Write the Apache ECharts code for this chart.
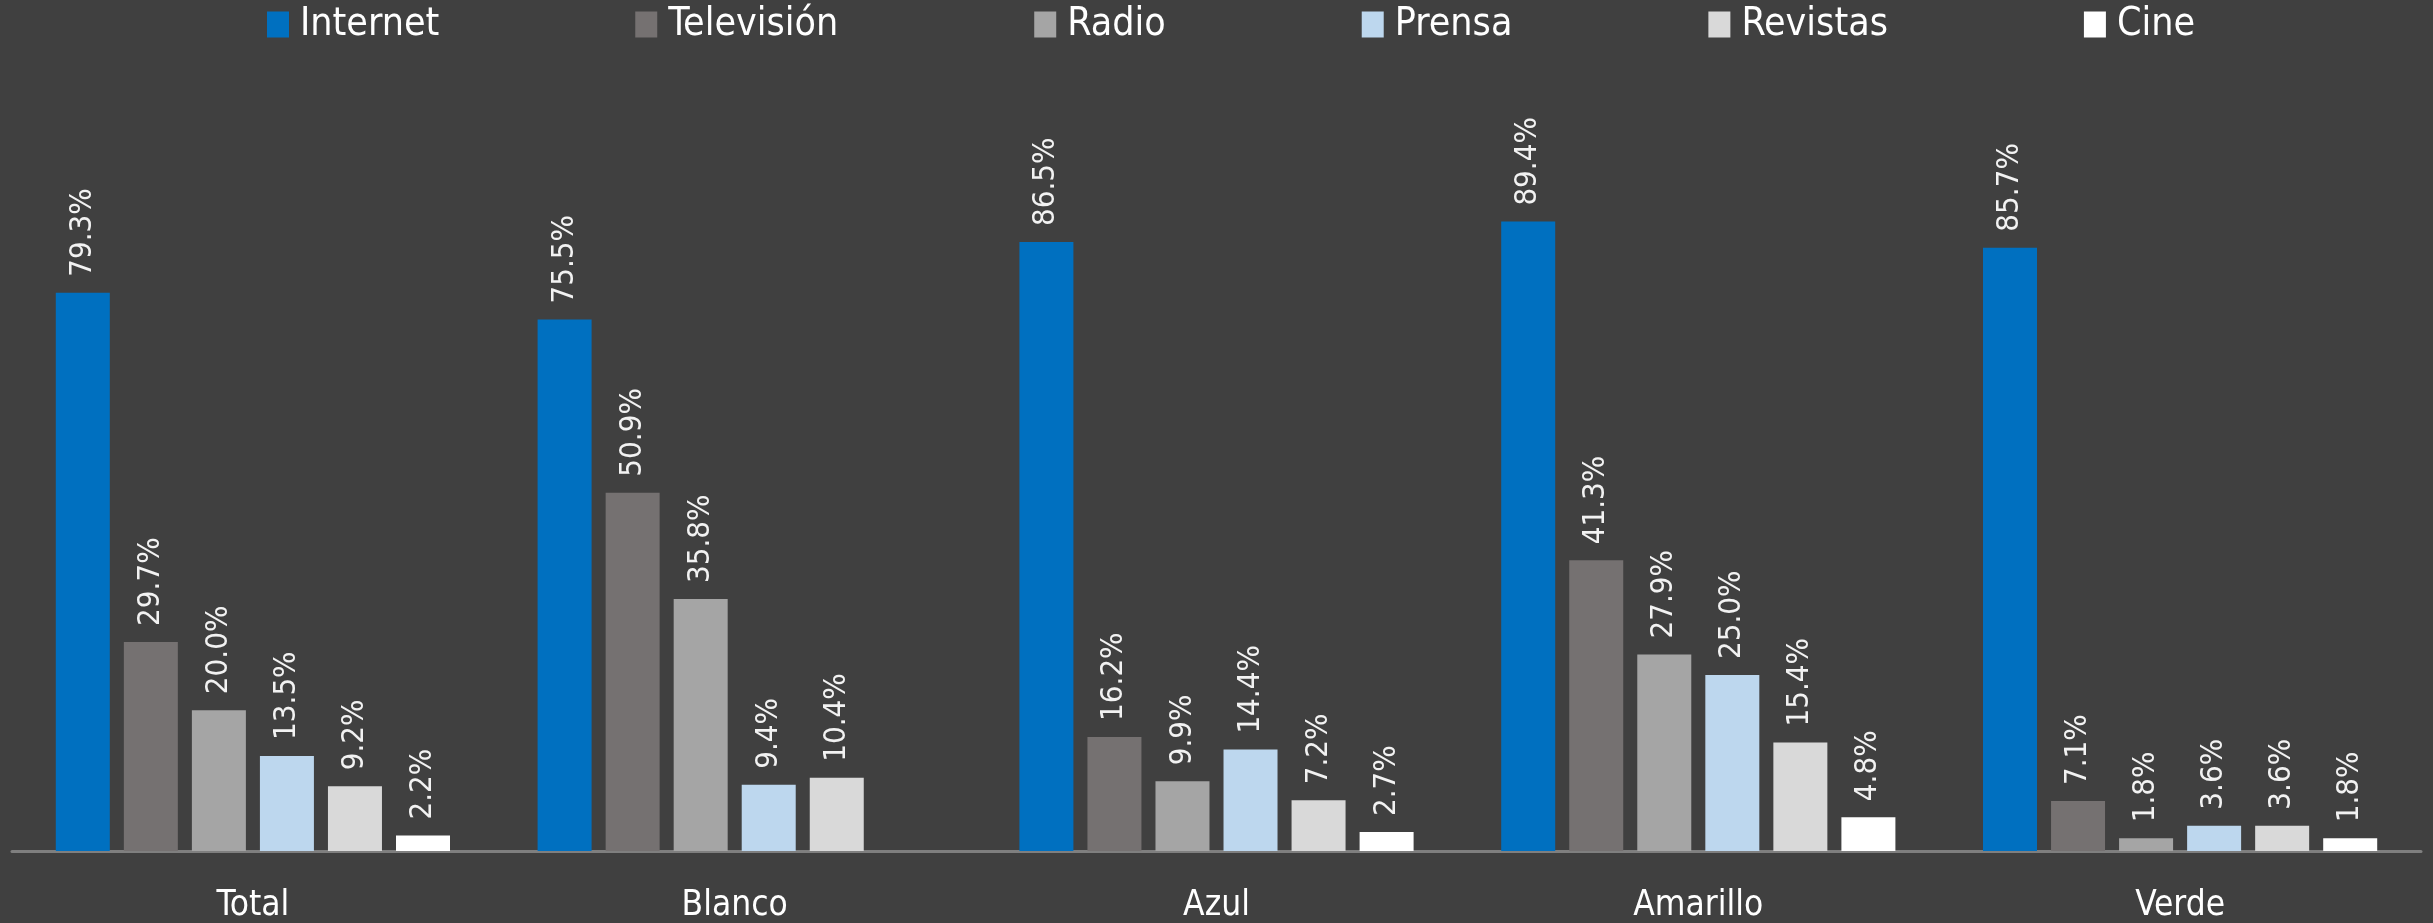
<!DOCTYPE html>
<html>
<head>
<meta charset="utf-8">
<script src="https://cdn.jsdelivr.net/npm/echarts@6/dist/echarts.min.js"></script>
<style>
  html, body { margin: 0; padding: 0; background: #404040; }
  #chart { width: 2433px; height: 923px; }
</style>
</head>
<body>
<div id="chart"></div>
<script>
// categorias y series
const categories = ['Total', 'Blanco', 'Azul', 'Amarillo', 'Verde']
const seriesNames = ['Internet', 'Televisión', 'Radio', 'Prensa', 'Revistas', 'Cine']
const seriesColors = ['#0070C0', '#757171', '#A5A5A5', '#BDD7EE', '#D9D9D9', '#FFFFFF']

const internet = [79.3, 75.5, 86.5, 89.4, 85.7]
const television = [29.7, 50.9, 16.2, 41.3, 7.1]
const radio = [20.0, 35.8, 9.9, 27.9, 1.8]
const prensa = [13.5, 9.4, 14.4, 25.0, 3.6]
const revistas = [9.2, 10.4, 7.2, 15.4, 3.6]
const cine = [2.2, '-', 2.7, 4.8, 1.8]

const allData = [internet, television, radio, prensa, revistas, cine]

const chart = echarts.init(document.getElementById('chart'))

const series = seriesNames.map((name, i) => ({
  name: name,
  type: 'bar',
  data: allData[i],
  barWidth: 54,
  barGap: '26%',
  itemStyle: { color: seriesColors[i] },
  label: {
    show: true,
    position: 'top',
    rotate: 90,
    align: 'left',
    verticalAlign: 'middle',
    distance: 16,
    color: '#f2f2f2',
    fontFamily: 'DejaVu Sans Condensed',
    fontSize: 31,
    formatter: p => p.value.toFixed(1) + '%'
  }
}))

chart.setOption({
  backgroundColor: '#404040',
  animation: false,
  legend: {
    top: 0,
    left: 262,
    itemWidth: 22,
    itemHeight: 26,
    itemGap: 196,
    icon: 'rect',
    textStyle: {
      color: '#ffffff',
      fontFamily: 'DejaVu Sans Condensed',
      fontSize: 39,
      padding: [0, 0, 0, 6]
    },
    data: seriesNames
  },
  grid: {
    left: 12,
    right: 12,
    top: 147,
    bottom: 70
  },
  xAxis: {
    type: 'category',
    data: categories,
    axisTick: { show: false },
    axisLine: { lineStyle: { color: '#7f7f7f', width: 3 } },
    axisLabel: {
      color: '#ffffff',
      fontFamily: 'DejaVu Sans Condensed',
      fontSize: 35,
      margin: 37
    }
  },
  yAxis: {
    type: 'value',
    min: 0,
    max: 100,
    show: false,
    splitLine: { show: false }
  },
  series: series
})
</script>
</body>
</html>
